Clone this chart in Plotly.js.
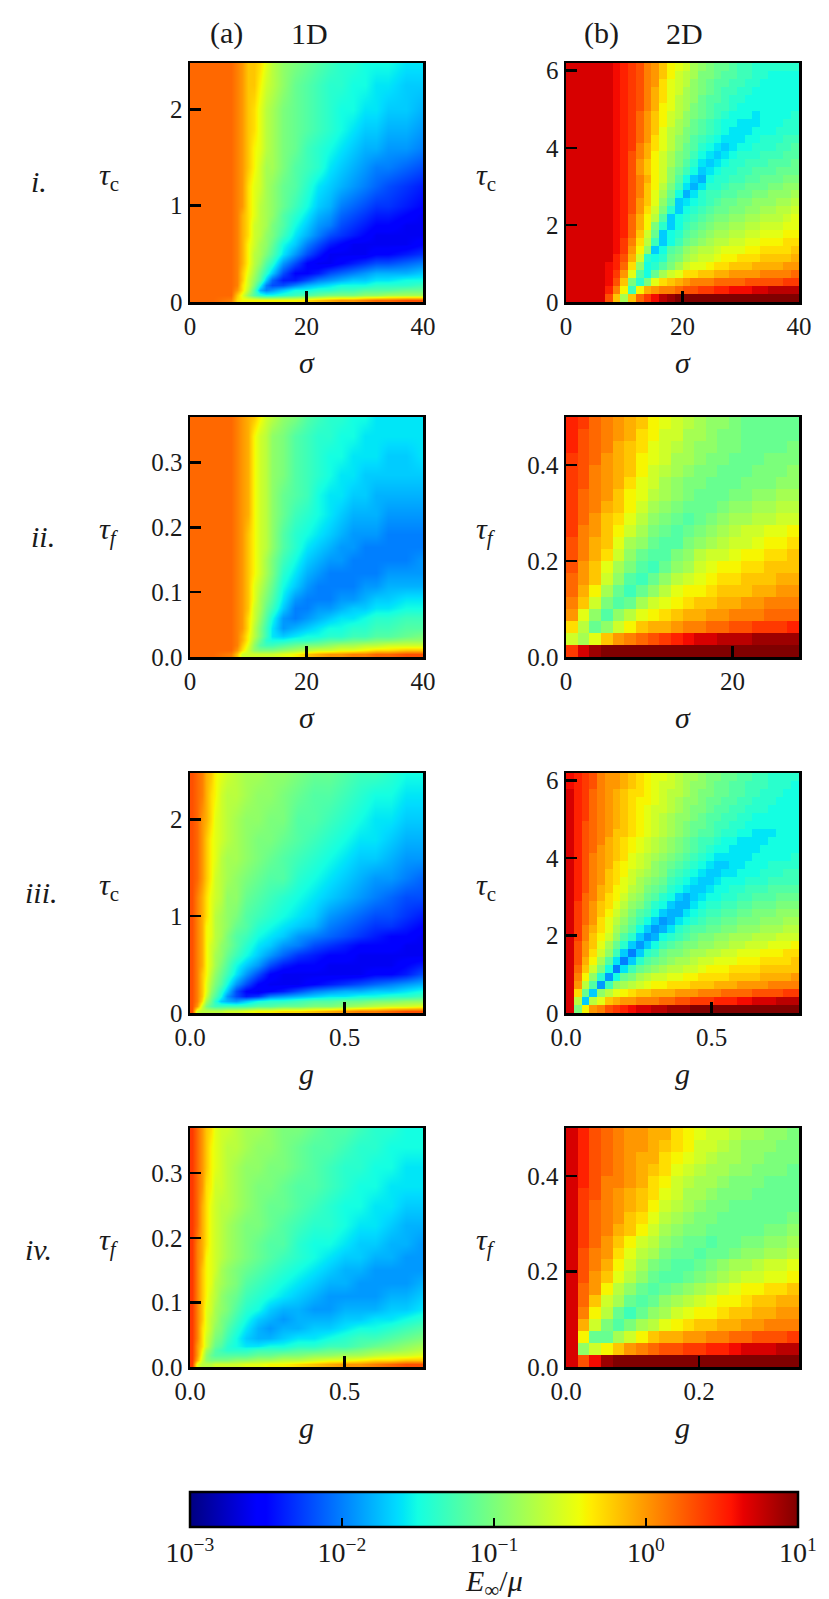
<!DOCTYPE html>
<html><head><meta charset="utf-8">
<script src="https://cdn.plot.ly/plotly-3.0.1.min.js"></script>
<style>html,body{margin:0;padding:0;background:#fff}</style></head>
<body><div id="chart" style="width:829px;height:1599px"></div>
<script>
// All grid values are levels: tenths of a decade above E/mu = 1e-3 (0 = 10^-3, 40 = 10^1).
const sigmaCols1D=[0,4,7,8,9,10,11,12,13,14,16,18,20,22,24,26,28,30,32,34,37,40];
const gCols1D=[.0075,.0225,.0375,.0525,.0675,.0825,.1,.12,.15,.18,.22,.26,.3,.35,.4,.45,.5,.55,.6,.65,.7,.75];
const tauCRows1D=[.025,.075,.125,.175,.225,.3,.4,.5,.6,.7,.8,.9,1,1.2,1.4,1.6,1.8,2,2.25,2.48];
const tauFRows1D=[.004,.011,.0185,.026,.033,.045,.06,.075,.09,.11,.13,.15,.17,.19,.22,.25,.28,.31,.34,.37];
const a1=[
[32,32,31,27,26,26,26,26,26,26,26,26,27,28,29,30,30,31,32,32,33,33],
[32,32,32,28,25,21,18,16,15,15,16,17,18,19,20,20,20,21,21,22,22,22],
[32,32,32,30,27,23,18,12,10,11,13,15,15,16,16,17,17,18,18,18,19,19],
[32,32,32,31,27,24,20,15,10,8,8,10,12,13,14,15,15,15,16,16,16,17],
[32,32,32,31,28,24,21,18,13,9,6,6,8,10,11,12,13,13,14,14,15,15],
[32,32,32,31,28,25,22,19,16,13,8,5,5,6,8,9,10,11,12,12,12,13],
[32,32,32,31,29,26,23,21,18,16,11,8,5,4,4,5,6,7,8,8,9,10],
[32,32,32,31,29,26,23,22,20,18,14,11,8,6,4,4,4,4,5,5,6,7],
[32,32,32,31,29,26,24,22,21,19,15,13,10,8,6,5,4,4,4,4,4,5],
[32,32,32,31,29,27,24,23,21,20,17,14,12,10,8,7,6,5,4,4,4,4],
[32,32,32,31,29,27,24,23,22,20,18,15,13,11,10,8,7,6,5,5,4,4],
[32,32,32,31,29,27,25,23,22,21,18,16,14,12,11,9,8,7,6,6,5,4],
[32,32,32,31,30,27,25,23,22,21,19,17,15,13,12,10,9,8,7,7,6,5],
[32,32,32,31,30,27,25,24,22,21,19,18,16,14,13,12,11,10,9,8,7,6],
[32,32,32,31,30,28,26,24,22,22,20,18,17,16,14,13,12,11,10,10,9,8],
[32,32,32,31,30,28,26,25,23,22,20,19,17,16,15,14,13,12,12,11,11,10],
[32,32,32,31,30,28,27,25,23,22,20,19,18,17,16,15,14,13,13,12,12,11],
[32,32,32,31,30,28,27,25,23,22,20,19,18,17,16,15,15,14,14,13,13,12],
[32,32,32,31,30,28,28,26,24,23,21,19,18,17,16,16,15,15,14,14,13,13],
[32,32,32,31,30,28,28,27,25,23,21,20,19,18,17,16,16,15,15,15,14,14]];
const a2=[
[32,32,31,28,24,24,24,24,24,24,25,26,28,29,30,30,31,31,32,32,33,33],
[32,32,32,30,27,24,21,20,20,20,21,22,23,24,24,25,25,26,27,27,28,28],
[32,32,32,31,28,25,21,18,17,17,18,19,20,20,21,22,22,23,23,24,24,24],
[32,32,32,31,29,26,22,19,16,15,15,16,16,17,18,18,19,19,20,20,21,21],
[32,32,32,31,29,26,23,20,17,14,13,14,15,15,16,16,17,17,18,18,19,20],
[32,32,32,31,30,27,23,20,17,14,11,12,13,14,15,15,16,16,17,17,18,18],
[32,32,32,31,30,27,24,21,18,15,11,10,11,12,13,14,14,15,16,16,17,17],
[32,32,32,31,30,28,24,22,19,17,13,10,10,11,11,12,13,13,14,14,15,15],
[32,32,32,31,30,28,25,22,20,18,14,11,10,10,10,11,11,12,13,13,14,14],
[32,32,32,31,30,28,25,23,21,19,15,13,11,10,10,10,10,11,11,12,12,12],
[32,32,32,31,30,28,26,24,22,20,16,14,12,11,10,10,10,10,10,11,11,11],
[32,32,32,31,30,28,26,24,22,20,17,15,13,12,11,11,10,10,10,10,10,11],
[32,32,32,31,30,28,26,24,23,21,18,16,14,13,12,11,11,10,10,10,10,10],
[32,32,32,31,30,28,26,24,23,21,18,16,15,14,13,12,11,11,11,10,10,10],
[32,32,32,31,30,29,26,24,23,21,19,17,16,15,14,13,12,12,12,11,11,11],
[32,32,32,31,30,29,26,24,23,21,19,18,17,15,14,14,13,13,12,12,12,12],
[32,32,32,31,30,29,26,24,23,21,20,18,17,16,15,14,14,13,13,13,13,13],
[32,32,32,31,30,29,26,24,23,21,20,18,17,16,15,15,14,14,14,13,13,14],
[32,32,32,31,30,29,26,24,23,21,20,18,17,16,16,15,15,14,14,14,14,14],
[32,32,32,31,30,29,28,26,24,23,21,20,18,17,16,16,15,15,14,14,14,14]];
const a3=[
[33,24,23,23,23,23,23,24,24,25,26,26,27,27,28,29,30,31,31,32,33,33],
[33,30,24,20,18,17,17,17,17,17,18,18,19,19,20,20,21,22,23,24,24,25],
[33,31,27,22,19,16,13,12,11,13,15,16,16,17,18,18,19,19,20,20,21,21],
[33,31,28,24,20,18,15,11,8,6,7,10,11,12,13,14,14,15,15,16,16,17],
[33,31,28,25,21,19,16,13,8,5,4,5,6,8,10,11,12,12,13,13,14,15],
[33,31,28,25,22,20,18,15,11,8,5,4,4,4,5,6,7,8,9,10,11,12],
[33,31,28,26,23,21,19,17,14,11,8,5,4,4,4,4,4,4,5,5,6,8],
[33,31,29,26,24,22,20,18,15,13,11,8,6,5,5,4,4,4,4,4,5,6],
[33,31,29,26,24,22,21,19,17,15,13,11,9,7,6,5,5,4,4,4,4,4],
[33,31,29,26,24,23,21,20,18,16,14,13,11,10,8,7,6,5,5,5,4,4],
[33,31,29,26,25,23,22,20,18,17,15,14,13,11,10,9,8,7,6,5,5,4],
[33,31,29,26,25,23,22,21,19,18,16,15,14,13,12,10,9,8,7,7,6,5],
[33,31,29,27,25,23,22,21,20,18,17,16,15,14,13,11,10,9,8,8,7,6],
[33,31,29,27,25,24,23,21,21,19,18,17,16,15,14,13,12,11,10,9,8,8],
[33,32,30,28,26,24,23,22,21,20,19,18,18,16,15,14,13,12,11,11,10,9],
[33,32,30,28,26,25,23,22,22,21,20,19,18,17,16,15,14,13,13,12,11,11],
[33,32,30,28,26,25,24,23,22,21,20,20,19,18,17,16,15,14,14,13,12,12],
[33,32,30,29,27,25,24,23,22,21,21,20,20,18,18,17,16,15,14,14,13,13],
[33,32,31,29,27,26,24,23,23,22,21,21,20,19,18,18,17,16,15,15,14,14],
[33,32,31,29,28,26,25,24,23,22,22,21,21,20,19,19,18,17,17,16,15,15]];
const a4=[
[34,25,23,23,23,24,24,24,24,25,25,26,26,27,28,29,30,30,31,32,33,33],
[34,29,24,21,20,20,20,20,21,21,22,22,23,23,24,25,25,26,27,27,28,28],
[34,30,25,21,19,18,18,18,18,18,19,19,20,20,21,21,22,22,23,24,24,25],
[34,30,26,22,20,18,17,16,16,16,17,17,17,18,18,19,19,20,21,21,22,23],
[34,30,27,24,21,19,18,16,15,14,14,15,15,16,16,17,17,18,19,20,21,22],
[34,31,27,24,22,20,19,17,15,13,12,12,13,14,14,15,16,17,17,18,19,20],
[34,31,27,25,23,21,20,18,16,14,12,11,12,12,13,13,14,15,15,16,17,18],
[34,31,28,25,23,22,20,19,17,15,13,12,11,12,12,12,13,13,14,14,15,16],
[34,31,28,25,24,22,21,20,18,16,15,13,12,12,11,11,12,12,12,13,13,14],
[34,31,28,26,24,23,21,20,19,17,16,15,14,13,12,11,11,11,11,12,12,13],
[34,31,28,26,25,23,22,21,20,18,17,16,15,14,13,12,12,11,11,11,11,12],
[34,31,28,26,25,24,22,21,20,19,18,17,16,15,14,13,12,12,11,11,11,11],
[34,31,29,26,25,24,23,22,21,20,19,18,17,16,15,14,13,13,12,12,11,11],
[34,31,29,27,25,24,23,22,21,20,19,18,18,16,15,15,14,13,13,12,12,11],
[34,32,29,27,25,24,23,22,21,20,20,19,18,17,16,16,15,14,14,13,12,12],
[34,32,29,27,25,24,23,23,22,21,20,19,19,18,17,16,15,15,14,14,13,13],
[34,32,30,27,26,24,24,23,22,21,20,20,19,18,18,17,16,15,15,14,14,14],
[34,32,30,28,26,25,24,23,22,21,21,20,20,19,18,17,16,16,15,15,14,14],
[34,32,30,28,26,25,24,23,23,22,21,21,20,19,18,18,17,16,16,15,15,15],
[34,32,30,28,27,25,24,24,23,22,22,21,20,20,19,18,18,17,16,16,15,15]];
const b1=[
[37,37,37,37,37,33,28,22,28,32,34,36,38,39,40,40,40,40,40,40,40,40,40,40,40,40,40,40,40,40],
[37,37,37,37,37,35,31,26,17,26,29,30,31,31,32,33,33,34,34,35,35,36,36,36,37,37,38,38,38,38],
[37,37,37,37,37,36,33,28,20,16,20,25,27,28,29,30,31,31,31,32,32,32,32,33,33,33,33,33,34,34],
[37,37,37,37,37,36,34,30,25,18,15,19,22,24,25,27,27,28,28,29,29,30,30,30,30,31,31,31,31,32],
[37,37,37,37,37,36,35,32,27,21,15,16,18,20,22,24,25,25,26,27,27,28,28,28,29,29,29,29,30,30],
[37,37,37,37,37,37,35,33,29,24,16,15,16,19,20,22,23,24,24,25,26,26,27,27,27,28,28,28,28,29],
[37,37,37,37,37,37,36,34,30,26,21,13,15,18,19,21,22,23,23,24,25,25,25,26,26,27,27,27,27,28],
[37,37,37,37,37,37,36,34,31,27,23,17,13,15,17,19,20,21,22,23,23,24,24,25,25,26,26,26,27,27],
[37,37,37,37,37,37,36,35,32,28,24,19,13,15,16,18,19,20,21,22,22,23,23,24,24,25,25,25,26,26],
[37,37,37,37,37,37,36,35,32,29,26,20,16,13,15,17,18,19,20,21,21,22,22,23,23,24,24,24,25,25],
[37,37,37,37,37,37,36,35,32,29,26,23,18,13,15,16,17,18,19,20,20,21,21,22,22,23,23,23,24,25],
[37,37,37,37,37,37,36,35,33,30,27,24,20,16,13,15,16,17,18,19,19,20,20,21,21,22,22,23,23,24],
[37,37,37,37,37,37,36,35,33,30,28,25,21,18,13,14,15,16,17,18,19,19,20,20,21,21,21,22,22,23],
[37,37,37,37,37,37,36,35,33,31,28,25,22,19,15,12,14,16,17,17,18,18,19,19,20,20,21,21,21,22],
[37,37,37,37,37,37,36,35,33,31,28,26,23,20,17,14,12,14,16,16,17,18,18,19,19,19,20,20,21,21],
[37,37,37,37,37,37,36,35,33,31,29,26,24,21,18,15,13,12,15,16,16,17,17,18,18,19,19,19,20,20],
[37,37,37,37,37,37,36,35,33,30,28,26,24,21,19,17,15,13,14,15,16,16,17,17,18,18,18,19,19,19],
[37,37,37,37,37,37,36,35,33,30,28,26,24,22,20,18,16,14,13,14,15,16,16,17,17,17,18,18,18,19],
[37,37,37,37,37,37,36,35,33,31,29,26,24,22,20,19,17,15,14,13,14,15,16,16,16,17,17,17,18,18],
[37,37,37,37,37,37,36,35,34,31,29,27,25,23,21,19,18,16,15,14,13,14,15,15,16,16,16,17,17,18],
[37,37,37,37,37,37,36,35,34,32,30,27,25,23,21,20,18,17,16,15,14,14,14,15,15,16,16,16,17,17],
[37,37,37,37,37,37,36,35,34,32,30,28,25,23,22,20,19,18,17,16,15,14,14,14,15,15,15,16,16,16],
[37,37,37,37,37,37,36,35,34,32,30,28,26,24,22,21,19,18,17,16,15,15,14,14,14,15,15,15,16,16],
[37,37,37,37,37,37,36,35,34,32,30,28,26,24,23,21,20,19,18,17,16,15,15,15,14,15,15,15,15,16],
[37,37,37,37,37,37,36,35,34,33,31,29,26,25,23,22,20,19,18,17,17,16,15,15,15,15,15,15,15,15],
[37,37,37,37,37,37,36,35,34,33,31,29,27,25,23,22,21,19,18,18,17,16,16,15,15,15,15,15,15,15],
[37,37,37,37,37,37,36,35,34,33,31,29,27,25,24,22,21,20,19,18,17,17,16,16,15,15,15,15,15,15],
[37,37,37,37,37,37,36,35,34,33,31,30,27,25,24,23,21,20,19,18,18,17,17,16,16,15,15,15,15,15],
[37,37,37,37,37,37,36,35,34,33,31,30,28,26,24,23,22,20,20,19,18,18,17,17,16,16,15,15,15,15],
[37,37,37,37,37,37,36,35,34,33,31,30,28,26,25,24,22,21,20,19,19,18,17,17,16,16,16,16,16,16]];
const b2=[
[34,37,39,40,40,40,40,40,40,40,40,40,40,40,40,40,40,40,40,40],
[24,22,25,28,30,31,32,33,34,35,36,37,37,38,38,38,39,39,39,39],
[27,23,19,21,24,26,28,29,29,30,31,31,32,32,33,33,34,34,34,35],
[30,25,21,18,21,23,25,26,27,28,29,29,30,30,31,31,31,32,32,32],
[31,28,24,20,18,19,22,24,25,26,27,28,28,29,29,30,30,31,31,31],
[32,29,26,22,19,17,19,21,23,25,26,26,27,28,28,28,29,29,30,30],
[32,30,28,24,21,18,17,19,21,23,24,25,26,27,27,28,28,28,29,29],
[33,30,28,25,22,20,18,17,19,21,22,24,25,26,26,27,27,28,28,28],
[33,31,29,27,24,21,19,18,18,20,21,23,24,24,25,26,26,27,27,28],
[33,31,29,28,25,22,21,19,18,18,20,21,22,23,24,24,25,26,26,27],
[34,31,30,28,26,24,22,20,19,18,19,20,21,22,23,24,24,25,25,26],
[34,32,30,28,27,25,23,21,20,19,18,19,20,21,22,22,23,23,24,24],
[34,32,31,29,28,26,24,22,21,20,19,19,19,20,21,21,22,22,23,23],
[34,32,31,30,28,26,25,23,22,21,20,19,19,19,20,20,21,21,22,22],
[34,33,31,30,29,27,25,24,22,21,20,20,19,19,19,20,20,20,21,21],
[34,33,31,30,29,28,26,24,23,22,21,20,20,19,19,19,20,20,20,21],
[34,33,32,30,29,28,26,25,24,22,22,21,20,20,19,19,19,20,20,20],
[35,33,32,31,29,28,27,25,24,23,22,21,21,20,20,19,19,19,19,20],
[35,33,32,31,30,29,27,26,24,24,22,22,21,20,20,19,19,19,19,19],
[35,34,32,31,30,29,28,26,25,24,23,22,21,21,20,19,19,19,19,19]];
const b3=[
[37,20,26,30,31,33,34,35,36,37,37,38,38,39,39,39,40,40,40,40,40,40,40,40,40,40,40,40,40,40],
[37,23,13,23,25,28,29,30,30,31,31,31,32,32,33,33,34,34,34,35,35,35,36,36,37,37,37,38,38,38],
[37,27,19,13,21,23,25,26,27,28,28,29,29,29,30,30,30,31,31,31,32,32,32,32,33,33,33,33,34,34],
[37,30,23,18,11,17,21,22,23,24,25,26,26,27,27,27,28,28,28,29,29,29,30,30,30,30,31,31,31,31],
[37,31,26,21,16,11,15,19,20,22,23,24,24,25,25,26,26,27,27,27,27,28,28,28,28,29,29,29,29,30],
[37,32,28,24,20,15,10,14,17,19,20,21,22,23,23,24,24,25,26,26,26,27,27,27,27,28,28,28,28,28],
[37,33,29,26,22,18,14,10,13,16,18,19,20,21,22,22,23,24,24,25,25,25,26,26,26,27,27,27,27,28],
[37,33,30,27,24,21,17,13,10,13,16,17,19,20,20,21,22,22,23,23,24,24,25,25,25,26,26,26,27,27],
[37,33,30,28,25,22,19,16,13,11,13,15,17,18,19,20,20,21,21,22,22,23,23,24,24,24,25,25,25,26],
[37,34,31,28,26,24,21,18,16,13,11,12,15,16,17,18,19,20,20,21,21,22,22,22,23,23,23,24,24,24],
[37,34,31,29,27,25,22,20,18,15,13,11,12,14,16,17,18,18,19,19,20,20,21,21,21,22,22,22,23,23],
[37,34,32,30,27,25,23,21,19,17,15,13,11,12,14,15,16,17,18,18,19,19,20,20,20,21,21,21,22,22],
[37,34,32,30,28,26,24,22,20,18,17,15,13,12,12,14,15,16,17,17,18,18,19,19,20,20,20,21,21,21],
[37,34,32,30,28,27,25,23,21,20,18,16,15,13,12,12,14,15,16,16,17,17,18,18,19,19,19,20,20,20],
[37,35,32,31,29,27,26,24,22,21,19,18,16,15,13,12,13,14,15,15,16,16,17,17,18,18,18,19,19,19],
[37,35,33,31,29,28,26,25,23,22,20,19,18,16,15,14,13,13,14,15,15,16,16,17,17,17,18,18,18,18],
[37,35,33,31,30,28,27,25,24,22,21,20,19,17,16,15,14,13,13,14,15,15,15,16,16,16,17,17,17,17],
[37,35,33,31,30,28,27,26,24,23,22,21,20,18,17,16,15,14,13,13,14,14,15,15,15,16,16,16,17,17],
[37,35,33,31,30,29,27,26,25,24,23,21,20,19,18,17,16,15,14,13,13,14,14,15,15,15,16,16,16,16],
[37,35,33,31,30,29,28,27,25,24,23,22,21,20,19,18,17,16,15,14,14,14,14,14,15,15,15,15,15,16],
[37,35,33,32,30,29,28,27,26,25,24,23,22,21,20,19,18,17,16,15,15,14,14,14,14,15,15,15,15,15],
[37,35,33,32,31,29,28,27,26,25,24,23,22,21,20,19,18,17,17,16,15,15,14,14,14,14,15,15,15,15],
[37,35,33,32,31,30,28,28,27,26,25,24,23,22,21,20,19,18,18,17,16,16,15,15,14,14,14,15,15,15],
[37,35,33,32,31,30,29,28,27,26,25,24,23,22,21,20,19,19,18,17,17,16,16,15,15,15,15,15,15,15],
[37,35,34,32,31,30,29,28,27,26,25,24,23,22,21,21,20,19,18,18,17,17,16,16,15,15,15,15,15,15],
[37,35,34,32,31,30,29,28,27,26,25,24,24,23,22,21,20,20,19,18,18,17,17,16,16,16,15,15,15,15],
[37,35,34,32,31,30,29,28,27,26,26,25,24,23,22,21,21,20,19,19,18,18,17,17,16,16,16,15,15,15],
[37,35,34,32,31,30,29,28,27,27,26,25,24,23,23,22,21,20,20,19,19,18,18,17,17,16,16,16,15,15],
[36,35,34,33,31,30,30,29,28,27,26,25,24,24,23,22,21,21,20,19,19,18,18,17,17,17,16,16,16,15],
[36,35,34,33,31,30,30,29,28,27,26,25,25,24,23,22,22,21,20,20,19,19,18,18,17,17,16,16,16,16]];
const b4=[
[37,33,36,39,40,40,40,40,40,40,40,40,40,40,40,40,40,40,40,40],
[37,21,24,26,28,30,31,32,33,33,34,34,35,35,36,37,37,37,38,38],
[37,26,19,19,22,24,26,28,29,29,30,30,31,31,32,32,33,33,33,34],
[37,29,24,20,18,20,22,23,25,26,27,28,28,29,29,30,30,31,31,31],
[37,31,26,23,19,17,19,21,22,24,25,26,26,27,28,28,29,29,30,30],
[37,32,28,24,22,19,18,19,21,22,23,24,25,26,26,27,28,28,29,29],
[37,32,30,26,23,21,19,18,19,20,21,22,23,24,25,26,26,27,27,28],
[37,33,30,28,25,23,21,19,18,18,19,20,21,22,23,24,24,25,25,26],
[37,33,31,29,26,24,22,20,19,18,18,19,20,21,22,22,23,24,24,25],
[37,33,31,30,27,25,23,22,20,19,19,18,19,19,20,21,21,22,22,23],
[37,34,32,30,28,26,24,23,21,20,19,19,18,19,19,20,20,21,21,22],
[37,34,32,31,29,28,26,24,22,21,20,20,19,19,19,19,19,20,20,21],
[37,34,32,31,30,28,27,25,23,22,21,20,20,19,19,19,19,19,19,20],
[37,34,32,31,30,29,28,26,24,23,22,21,20,20,19,19,19,19,19,19],
[37,34,33,31,30,29,28,27,25,24,22,22,21,20,20,20,19,19,19,19],
[37,35,33,31,31,30,29,27,26,24,23,22,22,21,20,20,20,19,19,19],
[37,35,33,32,31,30,29,28,27,25,24,23,22,22,21,21,20,20,20,19],
[37,35,33,32,31,30,29,29,27,26,25,24,23,22,22,21,21,20,20,20],
[37,35,33,32,31,30,30,29,28,27,26,24,24,23,22,21,21,21,20,20],
[37,35,33,32,31,30,30,29,29,27,26,25,24,24,23,22,22,21,21,20]];
const barTickVals=[0,10,20,30,40];
const barTickText=['10<sup>−3</sup>','10<sup>−2</sup>','10<sup>−1</sup>','10<sup>0</sup>','10<sup>1</sup>'];
const tickTau1D=[0,1,2], tickTauF1D=[0,.1,.2,.3], tickTauFText1D=['0.0','0.1','0.2','0.3'];
const tickTau2D=[0,2,4,6], tickTauF2D=[0,.2,.4], tickTauFText2D=['0.0','0.2','0.4'];

const W=829,H=1599;
const colX=[[190,423],[566,799]];
const rowY=[[63,302],[417,657],[773,1013],[1128,1367]];
const font='"Liberation Serif","Times New Roman",serif';
const ink='#1a1a1a', TICK=25, LABEL=30;
const tauC='<i>τ</i><sub>c</sub>', tauF='<i>τ<sub>f</sub></i>';
const panels=[
 {c:0,r:0,z:a1,x:sigmaCols1D,y:tauCRows1D,xm:40,ym:2.48,xt:[0,20,40],xl:['0','20','40'],yt:tickTau1D,yl:['0','1','2'],xn:'<i>σ</i>',yn:tauC},
 {c:1,r:0,z:b1,xm:40,ym:6.2,xt:[0,20,40],xl:['0','20','40'],yt:tickTau2D,yl:['0','2','4','6'],xn:'<i>σ</i>',yn:tauC},
 {c:0,r:1,z:a2,x:sigmaCols1D,y:tauFRows1D,xm:40,ym:.37,xt:[0,20,40],xl:['0','20','40'],yt:tickTauF1D,yl:tickTauFText1D,xn:'<i>σ</i>',yn:tauF},
 {c:1,r:1,z:b2,xm:28,ym:.5,xt:[0,20],xl:['0','20'],yt:tickTauF2D,yl:tickTauFText2D,xn:'<i>σ</i>',yn:tauF},
 {c:0,r:2,z:a3,x:gCols1D,y:tauCRows1D,xm:.754,ym:2.48,xt:[0,.5],xl:['0.0','0.5'],yt:tickTau1D,yl:['0','1','2'],xn:'<i>g</i>',yn:tauC},
 {c:1,r:2,z:b3,xm:.8,ym:6.2,xt:[0,.5],xl:['0.0','0.5'],yt:tickTau2D,yl:['0','2','4','6'],xn:'<i>g</i>',yn:tauC},
 {c:0,r:3,z:a4,x:gCols1D,y:tauFRows1D,xm:.754,ym:.37,xt:[0,.5],xl:['0.0','0.5'],yt:tickTauF1D,yl:tickTauFText1D,xn:'<i>g</i>',yn:tauF},
 {c:1,r:3,z:b4,xm:.35,ym:.5,xt:[0,.2],xl:['0.0','0.2'],yt:tickTauF2D,yl:tickTauFText2D,xn:'<i>g</i>',yn:tauF}
];
const jet=[[0,'rgb(0,0,128)'],[.11,'rgb(0,0,255)'],[.125,'rgb(0,0,255)'],[.34,'rgb(0,219,255)'],[.35,'rgb(0,230,247)'],[.375,'rgb(20,255,226)'],[.64,'rgb(239,255,8)'],[.65,'rgb(247,246,0)'],[.66,'rgb(255,236,0)'],[.89,'rgb(255,19,0)'],[.91,'rgb(232,0,0)'],[1,'rgb(128,0,0)']];

const layout={width:W,height:H,margin:{l:0,r:0,t:0,b:0,autoexpand:false},paper_bgcolor:'#fff',plot_bgcolor:'#fff',showlegend:false,
 font:{family:font,size:TICK,color:ink},annotations:[],
 coloraxis:{cmin:0,cmax:40,colorscale:jet,colorbar:{orientation:'h',lenmode:'pixels',len:608,thicknessmode:'pixels',thickness:35,
   x:494/W,xanchor:'center',y:1-1492/H,yanchor:'top',xpad:0,ypad:0,outlinewidth:2.5,outlinecolor:'#000',
   tickmode:'array',tickvals:barTickVals,ticktext:barTickText,ticks:'inside',ticklen:10,tickwidth:2.5,tickcolor:'#000',
   tickfont:{family:font,size:TICK+3,color:ink}}}};
function note(text,px,py,size){layout.annotations.push({text:text,xref:'paper',yref:'paper',x:px/W,y:1-py/H,showarrow:false,xanchor:'center',yanchor:'middle',font:{family:font,size:size||LABEL,color:ink}});}
const data=[];
panels.forEach((p,i)=>{
 const n=i+1, xa='xaxis'+(n>1?n:''), ya='yaxis'+(n>1?n:'');
 const common={showgrid:false,zeroline:false,showline:true,mirror:true,linecolor:'#000',linewidth:2.5,ticks:'inside',ticklen:11,tickwidth:2.5,tickcolor:'#000',tickmode:'array',tickfont:{family:font,size:TICK,color:ink},fixedrange:true,layer:'above traces'};
 layout[xa]=Object.assign({},common,{domain:[colX[p.c][0]/W,colX[p.c][1]/W],anchor:'y'+(n>1?n:''),range:[0,p.xm],tickvals:p.xt,ticktext:p.xl,title:{text:p.xn,standoff:14,font:{family:font,size:LABEL,color:ink}}});
 layout[ya]=Object.assign({},common,{domain:[1-rowY[p.r][1]/H,1-rowY[p.r][0]/H],anchor:'x'+(n>1?n:''),range:[0,p.ym],tickvals:p.yt,ticktext:p.yl});
 const t={type:'heatmap',z:p.z,coloraxis:'coloraxis',xaxis:'x'+(n>1?n:''),yaxis:'y'+(n>1?n:''),hoverinfo:'skip'};
 if(p.x){t.x=p.x;t.y=p.y;t.zsmooth='best';}
 else{const nx=p.z[0].length,ny=p.z.length;t.dx=p.xm/nx;t.dy=p.ym/ny;t.x0=t.dx/2;t.y0=t.dy/2;t.zsmooth=false;}
 data.push(t);
 note(p.yn,p.c?486:109,(rowY[p.r][0]+rowY[p.r][1])/2-6);
});
note('(a)',226,33);note('1D',309,33);note('(b)',601,33);note('2D',684,33);
note('<i>i.</i>',39,182);note('<i>ii.</i>',43,536);note('<i>iii.</i>',41,892);note('<i>iv.</i>',38,1249);
note('<i>E</i><sub>∞</sub>/<i>μ</i>',494,1583,30);
Plotly.newPlot('chart',data,layout,{displayModeBar:false,staticPlot:true});
</script></body></html>
